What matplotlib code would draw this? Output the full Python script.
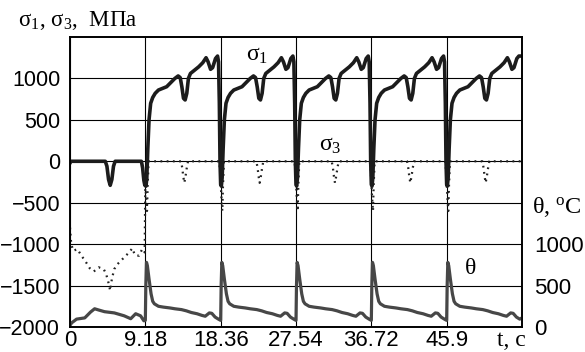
import numpy as np
import matplotlib.pyplot as plt

plt.rcParams['font.family'] = 'Liberation Sans'
plt.rcParams['mathtext.fontset'] = 'custom'
plt.rcParams['mathtext.rm'] = 'Liberation Serif'
plt.rcParams['mathtext.it'] = 'Liberation Serif:italic'
plt.rcParams['mathtext.default'] = 'rm'

period = 9.18
n_cycles = 6
xticks = [0, 9.18, 18.36, 27.54, 36.72, 45.9]
xtick_labels = ['0', '9.18', '18.36', '27.54', '36.72', '45.9']
yticks = [-2000, -1500, -1000, -500, 0, 500, 1000]
theta_ticks = [0, 500, 1000]

# sigma_1, first cycle (t, MPa)
s1_first_t = [0, 0.1, 4.3, 4.5, 4.7, 4.9, 5.1, 5.3, 5.5, 8.7, 8.85, 9.0, 9.12]
s1_first_v = [-20, 0, 0, -60, -220, -290, -220, -60, 0, 0, -80, -230, -290]
# sigma_1, repeating cycle (time from cycle start, MPa)
s1_cyc_t = [0.0, 0.08, 0.18, 0.3, 0.45, 0.65, 0.9, 1.2, 1.6, 2.1, 2.6, 3.1, 3.6,
            4.0, 4.25, 4.45, 4.65, 4.85, 5.05, 5.25, 5.5, 6.0, 6.5, 7.0, 7.4,
            7.65, 7.95, 8.2, 8.55, 8.8, 8.92, 9.02, 9.1]
s1_cyc_v = [-280, -300, -200, 150, 500, 700, 770, 820, 860, 880, 900, 950, 1000,
            1030, 1010, 900, 760, 740, 820, 1000, 1060, 1100, 1140, 1190, 1250,
            1200, 1110, 1130, 1240, 1270, 1200, 700, 0]

# sigma_3
s3_first_t = [0, 0.15, 0.4, 0.9, 1.4, 1.9, 2.4, 2.9, 3.5, 4.1, 4.4, 4.65, 4.9,
              5.1, 5.4, 5.9, 6.5, 7.1, 7.6, 7.9, 8.4, 8.8, 9.1]
s3_first_v = [-800, -1000, -1080, -1060, -1140, -1210, -1290, -1330, -1280, -1300,
              -1360, -1450, -1560, -1420, -1300, -1230, -1170, -1110, -1050, -1130,
              -1140, -1060, -1100]
s3_cyc_t = [0.0, 0.1, 0.2, 0.28, 0.4, 4.35, 4.5, 4.62, 4.75, 4.9, 5.05, 5.2, 9.0, 9.1]
s3_cyc_v = [-250, -450, -600, -300, 0, 0, -80, -180, -260, -180, -80, 0, 0, -100]

# theta, deg C
th_first_t = [0, 0.2, 0.8, 1.8, 2.5, 3.0, 3.5, 4.2, 5.4, 6.6, 7.4, 8.0, 8.6, 9.0]
th_first_v = [20, 50, 95, 110, 180, 220, 205, 185, 170, 135, 100, 160, 135, 75]
th_cyc_t = [0.0, 0.06, 0.14, 0.25, 0.45, 0.7, 0.9, 1.1, 1.6, 2.2, 3.0, 3.6, 4.4,
            5.0, 5.6, 6.3, 6.9, 7.3, 7.8, 8.1, 8.5, 8.9]
th_cyc_v = [80, 500, 780, 740, 580, 400, 310, 280, 250, 240, 230, 220, 210,
            195, 175, 160, 140, 130, 170, 165, 120, 95]


def build(first_t, first_v, cyc_t, cyc_v, end_v, last_cut=9.18):
    t = list(first_t)
    v = list(first_v)
    for k in range(1, n_cycles):
        for r, val in zip(cyc_t, cyc_v):
            if k == n_cycles - 1 and r > last_cut:
                continue
            t.append(k * period + r)
            v.append(val)
    t.append(n_cycles * period)
    v.append(end_v)
    return np.array(t), np.array(v)


t1, s1 = build(s1_first_t, s1_first_v, s1_cyc_t, s1_cyc_v, 1270, last_cut=8.85)
t3, s3 = build(s3_first_t, s3_first_v, s3_cyc_t, s3_cyc_v, 0, last_cut=8.9)
tt, th = build(th_first_t, th_first_v, th_cyc_t, th_cyc_v, 110)

fig = plt.figure(figsize=(5.85, 3.52), dpi=100)
ax = fig.add_axes([70 / 585, 25 / 352, 452 / 585, 290 / 352])

ax.plot(t3, s3, color='#222222', lw=1.6, linestyle=(0, (0.8, 2.0)))
ax.plot(t1, s1, color='#1c1c1c', lw=2.6)

ax.set_xlim(0, n_cycles * period)
ax.set_ylim(-2000, 1500)
ax.set_xticks(xticks)
ax.set_xticklabels(xtick_labels)
ax.set_yticks(yticks)
ax.grid(True, color='black', lw=0.8)
ax.tick_params(length=0, labelsize=16)
ax.tick_params(axis='y', pad=7, labelsize=15.5)
ax.tick_params(axis='x', pad=2)
for s in ax.spines.values():
    s.set_linewidth(1.2)

ax2 = ax.twinx()
ax2.plot(tt, th, color='#474747', lw=2.3)
ax2.set_ylim(0, 3500)
ax2.set_yticks(theta_ticks)
ax2.tick_params(length=0, labelsize=16, pad=9)
for s in ax2.spines.values():
    s.set_linewidth(1.2)

serif = 'Liberation Serif'
ax.text(22.8, 1280, r'$\sigma_1$', fontsize=17, family=serif, ha='center', va='center')
ax.text(31.7, 190, r'$\sigma_3$', fontsize=17, family=serif, ha='center', va='center')
ax.text(48.8, -1290, r'$\theta$', fontsize=17, family=serif, ha='center', va='center')

fig.text(18 / 585, 1 - 20 / 352, r'$\sigma_1$, $\sigma_3$,  МПа', fontsize=16.5,
         family=serif, ha='left', va='center')
fig.text(532 / 585, 1 - 207 / 352, r'$\theta$, $^{\rm o}$C', fontsize=17.5,
         family=serif, ha='left', va='center')
fig.text(511 / 585, 1 - 340 / 352, 't, c', fontsize=17, family=serif,
         ha='center', va='center')

fig.savefig('out.png', dpi=100)
